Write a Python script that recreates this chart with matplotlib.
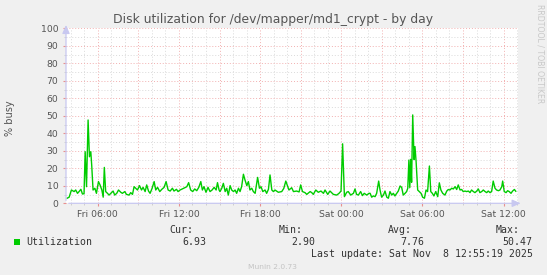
import matplotlib
matplotlib.use("Agg")
import matplotlib.pyplot as plt
from matplotlib.ticker import MultipleLocator

# ---- data (minutes since Fri 00:00, % busy) ----
minutes = [
    224, 233, 243, 255, 262, 270, 277, 285, 292, 299, 304, 310, 317, 323, 329, 333, 339, 347,
    354, 363, 370, 378, 384, 389, 395, 403, 410, 418, 428, 435, 444, 452, 462, 469, 480, 487,
    499, 506, 514, 521, 528, 536, 545, 554, 561, 570, 577, 585, 592, 601, 610, 617, 625, 635,
    644, 654, 663, 672, 681, 691, 698, 709, 716, 725, 735, 746, 755, 763, 772, 781, 790, 799,
    808, 817, 824, 831, 840, 849, 858, 867, 876, 885, 891, 898,
    902, 910, 917, 925, 932, 939, 947, 954, 962, 969, 976, 984, 991, 998, 1006, 1013, 1021,
    1028, 1035, 1043, 1050, 1058, 1069, 1077, 1084, 1092, 1102, 1109, 1117, 1124, 1132, 1139,
    1146, 1161, 1176, 1185, 1194, 1203, 1208, 1220, 1228, 1242, 1253, 1260, 1268, 1279, 1287,
    1302, 1309, 1316, 1327, 1338, 1350, 1361, 1368, 1380, 1390, 1405, 1420, 1430, 1439, 1446,
    1454, 1464, 1471, 1482, 1494, 1501, 1508, 1516, 1526, 1534, 1542, 1553, 1563,
    1568, 1575, 1582, 1590, 1597, 1606, 1612, 1619, 1627, 1634, 1642, 1649, 1656, 1664, 1671,
    1678, 1686, 1693, 1701, 1708, 1715, 1723, 1730, 1735, 1740, 1744, 1748, 1752, 1757, 1763,
    1767, 1772, 1779, 1786, 1794, 1801, 1809, 1816, 1823, 1831, 1837, 1844, 1851, 1859, 1868,
    1875, 1882, 1890, 1900, 1908, 1915, 1922, 1930, 1937, 1945, 1952, 1959, 1967, 1974, 1981,
    1989, 1996, 2004, 2011, 2018, 2026, 2033, 2041, 2048, 2055, 2063, 2070, 2078, 2085, 2092,
    2100, 2107, 2114, 2122, 2129, 2137, 2144, 2152, 2156, 2163, 2171, 2178, 2185, 2193, 2200,
    2208, 2214,
]
util = [
    2.9, 3.5, 7.6, 6.7, 7.6, 5.7, 6.7, 8.0, 5.3, 5.5, 29.5, 9.5, 47.6, 26.6, 29.5, 21.8, 7.6, 8.6,
    5.7, 12.4, 10.5, 7.6, 3.5, 20.5, 6.7, 5.7, 4.7, 5.7, 7.0, 4.7, 5.7, 7.6, 6.3, 5.7, 6.7, 5.1,
    4.7, 6.1, 5.1, 9.5, 8.6, 7.6, 10.1, 7.6, 9.1, 6.7, 10.5, 7.0, 5.7, 8.6, 12.4, 7.6, 9.1, 6.7,
    8.0, 9.1, 12.4, 7.6, 7.0, 8.6, 7.0, 8.0, 6.7, 7.6, 8.2, 8.9, 9.5, 11.8, 7.6, 6.7, 8.2, 7.2,
    9.1, 12.4, 7.6, 9.5, 6.3, 9.1, 6.7, 7.6, 9.1, 7.6, 11.8, 7.6,
    6.7, 8.6, 11.4, 6.7, 8.6, 4.7, 10.1, 7.6, 6.7, 7.6, 5.7, 8.6, 6.7, 9.5, 16.6, 13.3, 10.1,
    12.4, 7.6, 8.6, 6.7, 5.7, 14.8, 8.6, 9.5, 6.7, 7.6, 5.7, 8.0, 16.2, 7.6, 6.7,
    7.6, 6.3, 6.7, 8.5, 12.7, 9.5, 7.6, 8.9, 6.7, 7.0, 6.5, 10.5, 6.7, 6.1, 5.1,
    6.7, 6.1, 5.1, 7.6, 6.3, 7.0, 5.7, 7.6, 5.1, 7.0, 5.1, 4.7, 5.7, 7.0, 34.0,
    3.8, 6.3, 6.7, 4.7, 5.7, 8.2, 5.1, 4.7, 6.7, 4.4, 5.7, 4.7, 5.7,
    5.7, 3.5, 4.2, 3.8, 5.7, 12.7, 7.6, 3.5, 4.7, 7.0, 3.5, 2.9, 6.7, 4.7, 5.7,
    4.2, 5.7, 7.0, 9.9, 9.1, 4.7, 5.7, 6.7, 8.6, 24.7, 9.0, 25.1, 12.0, 50.5, 25.0,
    32.4, 23.8, 7.6, 6.7, 5.7, 3.5, 2.9, 7.6, 6.7, 21.3, 6.7, 5.7, 4.2, 6.7, 3.8,
    11.7, 7.6, 5.7, 4.7, 7.0, 7.9, 7.6, 8.6, 8.2, 9.5, 7.9, 10.5, 7.6, 7.9, 6.7,
    7.0, 6.7, 7.0, 6.1, 7.6, 6.7, 6.1, 7.0, 8.2, 6.1, 6.7, 7.6, 6.7, 6.1, 7.0,
    6.1, 6.7, 12.7, 8.6, 7.6, 7.2, 7.6, 9.5, 12.7, 6.7, 6.1, 7.2, 6.7, 5.7, 7.0,
    7.9, 6.9,
]
x_start, x_end = 219, 2224
label_minutes = [360, 720, 1080, 1440, 1800, 2160]
tick_labels = ["Fri 06:00", "Fri 12:00", "Fri 18:00", "Sat 00:00", "Sat 06:00", "Sat 12:00"]
y_ticks = [0, 10, 20, 30, 40, 50, 60, 70, 80, 90, 100]
stats_names = ["Cur:", "Min:", "Avg:", "Max:"]
stats_values = ["6.93", "2.90", "7.76", "50.47"]
series_name = "Utilization"
title = "Disk utilization for /dev/mapper/md1_crypt - by day"
ylabel = "% busy"

# ---- figure ----
W, H = 547, 275
BG = "#F0F0F0"
GREEN = "#00CC00"
TXT = "#555555"
fig = plt.figure(figsize=(W / 100, H / 100), dpi=100, facecolor=BG)
ax = fig.add_axes([66 / W, (H - 203.3) / H, (518 - 66) / W, (203.3 - 28.3) / H])
ax.set_facecolor("white")
ax.set_xlim(x_start, x_end)
ax.set_ylim(0, 100)

# grid
dot = (0, (1, 2))
for m in range(0, 2400, 60):
    if x_start < m < x_end:
        c = "#F2B0B0" if m % 180 == 0 else "#DADADA"
        ax.axvline(m, color=c, lw=0.7, ls=dot, zorder=1)
for v in range(5, 101, 5):
    c = "#F2B0B0" if v % 10 == 0 else "#DADADA"
    ax.axhline(v, color=c, lw=0.7, ls=dot, zorder=1)

ax.plot(minutes, util, color=GREEN, lw=1.0, zorder=3)

for s in ax.spines.values():
    s.set_visible(False)
ax.set_xticks(label_minutes)
ax.set_xticklabels(tick_labels)
ax.xaxis.set_minor_locator(MultipleLocator(60))
ax.set_yticks(y_ticks)
ax.set_yticklabels([str(v) for v in y_ticks])
ax.yaxis.set_minor_locator(MultipleLocator(5))
ax.tick_params(axis="both", which="major", labelsize=6.7, labelcolor=TXT, length=2,
               color="#E89090", width=0.8)
ax.tick_params(axis="x", which="major", pad=2.5)
ax.tick_params(axis="y", which="major", pad=3.5)
ax.tick_params(axis="both", which="minor", length=1.5, color="#C8C8C8", width=0.6)

# axis lines with arrows
AX = "#C8C8F0"
ax.annotate("", xy=(1.012, 0), xytext=(0, 0), xycoords="axes fraction",
            arrowprops=dict(arrowstyle="-|>,head_length=0.5,head_width=0.22", color=AX, lw=0.9),
            annotation_clip=False, zorder=5)
ax.annotate("", xy=(0, 1.035), xytext=(0, 0), xycoords="axes fraction",
            arrowprops=dict(arrowstyle="-|>,head_length=0.5,head_width=0.22", color=AX, lw=0.9),
            annotation_clip=False, zorder=5)

# texts
fig.text(273 / W, 1 - 19 / H, title, ha="center", va="center", fontsize=8.9, color=TXT)
fig.text(10 / W, 1 - 118 / H, ylabel, ha="center", va="center", rotation=90, fontsize=7, color=TXT)
fig.text(540 / W, 1 - 4 / H, "RRDTOOL / TOBI OETIKER", ha="center", va="top", rotation=270,
         fontsize=5.6, color="#C8C8C8")

mono = "DejaVu Sans Mono"
LT = "#333333"
row1 = 1 - 229.7 / H
row2 = 1 - 241.9 / H
row3 = 1 - 254 / H
name_right = [193.6, 303, 411.7, 520]
val_right = [206.6, 315.8, 424, 532.8]
for nm, xr in zip(stats_names, name_right):
    fig.text(xr / W, row1, nm, ha="right", va="center", fontsize=7.1, family=mono, color=LT)
for vv, xr in zip(stats_values, val_right):
    fig.text(xr / W, row2, vv, ha="right", va="center", fontsize=7.1, family=mono, color=LT)
fig.patches.append(plt.Rectangle((14 / W, row2 - 3 / H), 6 / W, 6 / H, transform=fig.transFigure,
                                 facecolor=GREEN, edgecolor="none"))
fig.text(26 / W, row2, series_name, ha="left", va="center", fontsize=7.1, family=mono, color=LT)
fig.text(532.8 / W, row3, "Last update: Sat Nov  8 12:55:19 2025", ha="right", va="center",
         fontsize=7.1, family=mono, color=LT)
fig.text(272.8 / W, 1 - 267 / H, "Munin 2.0.73", ha="center", va="center", fontsize=5.4,
         color="#C4C4C4")

fig.savefig("out.png", dpi=100, facecolor=BG)
